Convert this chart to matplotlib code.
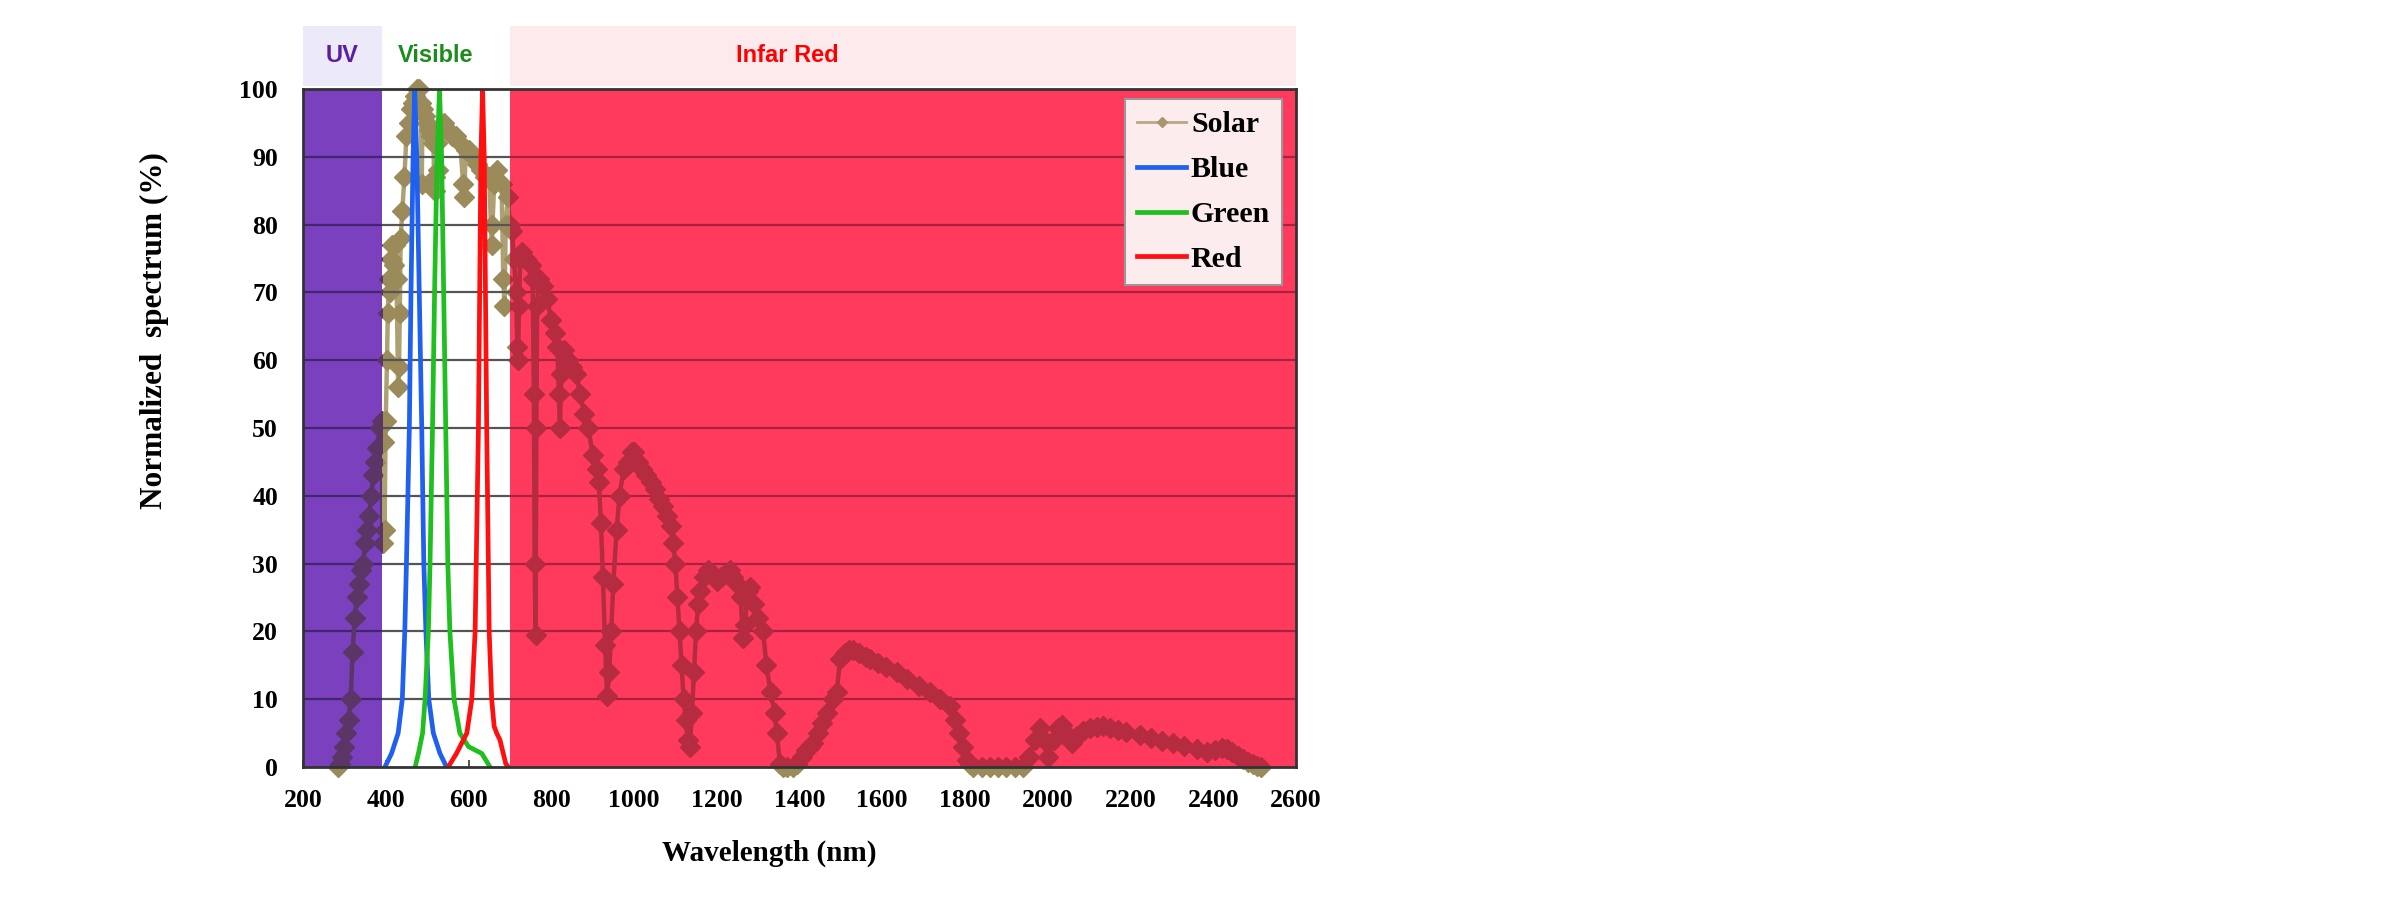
import matplotlib
matplotlib.use("Agg")
import matplotlib.pyplot as plt
from matplotlib.lines import Line2D
from matplotlib.patches import Rectangle

# normalized solar spectrum
solar_nm = [285, 290, 295, 300, 305, 310, 315, 320, 325, 330, 335, 340, 345, 350, 355, 360,
            365, 370, 375, 380, 385, 390, 393, 395, 397, 400, 403, 405, 408, 410, 413, 416,
            420, 423, 426, 430, 432, 434, 436, 440, 445, 450, 455, 460, 465, 470, 475, 480,
            485, 487, 489, 495, 500, 505, 510, 515, 518, 520, 523, 527, 530, 540, 550, 560,
            570, 580, 587, 590, 593, 600, 610, 620, 630, 640, 650, 656, 658, 662, 670, 680,
            684, 687, 690, 695, 700, 705, 710, 715, 718, 720, 722, 725, 730, 740, 750, 755,
            758, 760, 762, 764, 766, 770, 780, 790, 800, 810, 815, 818, 821, 824, 830, 840,
            850, 860, 870, 880, 890, 900, 910, 915, 920, 925, 930, 935, 940, 945, 950, 958,
            965, 975, 985, 995, 1000, 1010, 1020, 1030, 1040, 1050, 1060, 1070, 1080, 1090, 1095, 1100,
            1105, 1110, 1115, 1120, 1125, 1130, 1135, 1140, 1145, 1150, 1155, 1160, 1170, 1180, 1190, 1200,
            1210, 1220, 1232, 1240, 1250, 1258, 1263, 1268, 1275, 1280, 1290, 1300, 1312, 1320, 1330, 1340,
            1345, 1353, 1360, 1370, 1385, 1395, 1405, 1415, 1425, 1433, 1445, 1455, 1466, 1480, 1490, 1498,
            1510, 1520, 1530, 1545, 1560, 1570, 1590, 1610, 1635, 1660, 1690, 1715, 1740, 1763, 1775, 1785,
            1795, 1805, 1812, 1820, 1840, 1860, 1880, 1900, 1920, 1940, 1955, 1970, 1981, 1990, 2001, 2015,
            2025, 2035, 2045, 2058, 2070, 2085, 2102, 2120, 2134, 2150, 2170, 2190, 2223, 2250, 2275, 2303,
            2330, 2360, 2385, 2405, 2420, 2433, 2445, 2460, 2472, 2485, 2495, 2505, 2515]
solar_val = [0, 0.5, 1.5, 3, 5, 7, 10, 17, 22, 25, 27, 29, 30, 33, 35, 37,
             40, 43, 45, 47, 50, 51, 33, 48, 35, 51, 60, 67, 72, 70, 75, 77,
             74, 77, 72, 56, 59, 67, 78, 82, 87, 93, 95, 97, 98, 99, 100, 100,
             98, 86, 97, 96, 95, 94, 93, 92, 85, 87, 92, 88, 94, 95, 94, 93,
             93, 92, 86, 84, 91, 91, 90, 89, 88, 87, 87, 77, 80, 86, 88, 86,
             72, 68, 80, 84, 80, 79, 75, 70, 62, 60, 68, 75, 76, 75, 74, 72,
             55, 30, 19.5, 50, 68, 72, 71, 69, 66, 64, 62, 55, 50, 58, 61.5, 60,
             59, 58, 55, 52, 50, 46, 44, 42, 36, 28, 18, 10.5, 14, 20, 27, 35,
             40, 44, 45, 46.5, 46.5, 45, 44, 43, 42, 41, 39.5, 38.5, 37, 35.5, 33, 30,
             25, 20, 15, 10, 7, 4, 3, 8, 14, 20, 24, 26, 28, 29, 28.5, 27.5,
             28, 28.5, 29, 28, 27, 25, 19, 21, 26, 26.5, 24, 22, 20, 15, 11, 8,
             5, 0.5, 0, 0, 0, 0.5, 1.5, 2.5, 3, 3.5, 5, 6.5, 8, 10, 11, 16,
             16.8, 17.2, 17.2, 16.8, 16.2, 16, 15.3, 14.8, 14, 13, 12, 11, 10, 9, 7, 5,
             3, 1, 0.5, 0, 0, 0, 0, 0, 0, 0, 1.5, 4, 5.7, 4, 1.5, 4,
             5.8, 6.2, 5, 3.5, 4.5, 5.3, 5.7, 5.9, 6, 5.7, 5.4, 5.1, 4.7, 4.3, 3.9, 3.5,
             3.1, 2.6, 2.2, 2.5, 2.8, 2.7, 2.2, 1.6, 1.2, 0.8, 0.4, 0.2, 0]

blue_nm = [398, 414, 430, 440, 446, 450, 457, 461, 466, 470, 475, 481, 487, 492, 497, 504, 515, 531, 547]
blue_val = [0, 2, 5, 10, 20, 30, 50, 70, 90, 100, 90, 70, 50, 30, 20, 10, 5, 2, 0]

green_nm = [471, 479, 489, 495, 503, 507, 513, 518, 524, 530, 535, 540, 545, 550, 555, 565, 579, 600, 632, 652]
green_val = [0, 2, 5, 10, 20, 30, 50, 70, 90, 100, 90, 70, 50, 30, 20, 10, 5, 3, 2, 0]

red_nm = [551, 571, 596, 608, 616, 624, 630, 634, 638, 644, 650, 656, 662, 668, 676, 684, 690, 696]
red_val = [0, 2, 5, 10, 20, 50, 90, 100, 90, 50, 20, 10, 6, 5, 4, 2, 0.5, 0]

region_names = ["UV", "Visible", "Infar Red"]
region_edges = [200, 390, 700, 2600]
region_label_x = [295, 520, 1370]
region_fill = ["#7a40be", None, "#ff3a5d"]
region_head = ["#eceaf8", "#ffffff", "#fdeaec"]
region_text = ["#5a1fa0", "#1c8c1c", "#ff0000"]
region_grid = ["#43256e", "#555555", "#a8223f"]
region_solar = ["#5a3566", "#9c8b5a", "#b52b3f"]

x_ticks = list(range(200, 2601, 200))
y_ticks = list(range(0, 101, 10))

fig = plt.figure(figsize=(24, 9), dpi=100)
ax = fig.add_axes([0.12625, 0.1478, 0.41375, 0.7533])
ax.set_xlim(200, 2600)
ax.set_ylim(0, 100)
xaxis_tr = ax.get_xaxis_transform()

mk = dict(lw=3.2, marker="D", ms=10.5)

# olive solar curve underneath everything (visible part + bits poking out of the frame)
ax.plot(solar_nm, solar_val, color="#ada072", mfc="#9c8b5a", mec="#9c8b5a",
        zorder=1.5, clip_on=False, **mk)

for i in range(3):
    x0, x1 = region_edges[i], region_edges[i + 1]
    if region_fill[i]:
        ax.axvspan(x0, x1, color=region_fill[i], lw=0, zorder=2)
        ln, = ax.plot(solar_nm, solar_val, color=region_solar[i],
                      mfc=region_solar[i], mec=region_solar[i], zorder=3, **mk)
        clip = Rectangle((x0, 0), x1 - x0, 1, transform=xaxis_tr)
        ln.set_clip_path(clip)
    ax.hlines(y_ticks[1:-1], x0, x1, color=region_grid[i], lw=1.6, zorder=2.5)
    # header band
    ax.axvspan(x0, x1, ymin=1.004, ymax=1.093, color=region_head[i], lw=0, clip_on=False)
    ax.text(region_label_x[i], 1.05, region_names[i], transform=xaxis_tr, ha="center",
            va="center", color=region_text[i], fontsize=17, fontweight="bold",
            family=["Liberation Sans Narrow", "Liberation Sans"])

lb, = ax.plot(blue_nm, blue_val, color="#1f60f0", lw=3.4, zorder=4, label="Blue")
lg, = ax.plot(green_nm, green_val, color="#1fbf1f", lw=3.4, zorder=4, label="Green")
lr, = ax.plot(red_nm, red_val, color="#ff1010", lw=3.4, zorder=4, label="Red")

solar_handle = Line2D([], [], color="#b8a882", lw=2, marker="D", ms=5,
                      mfc="#a8966a", mec="#a8966a", label="Solar")

serif = ["Liberation Serif", "DejaVu Serif"]
leg = ax.legend(handles=[solar_handle, lb, lg, lr], loc="upper right",
                bbox_to_anchor=(0.986, 0.985), borderaxespad=0,
                prop={"family": serif, "weight": "bold", "size": 21.5},
                frameon=True, fancybox=False, facecolor="#fcecee", edgecolor="#999999",
                framealpha=1, handlelength=1.65, handletextpad=0.15, labelspacing=0.6,
                borderpad=0.4)
leg.set_zorder(10)
leg.get_frame().set_linewidth(1.5)

ax.set_xticks(x_ticks)
ax.set_yticks(y_ticks)
ax.tick_params(axis="x", direction="in", length=5, width=1.2, color="#333333", pad=16)
ax.tick_params(axis="y", length=0, pad=18)
for lab in ax.get_xticklabels() + ax.get_yticklabels():
    lab.set_family(serif)
    lab.set_fontweight("bold")
    lab.set_fontsize(18.5)

ax.set_xlabel("Wavelength (nm)", family=serif, fontweight="bold", fontsize=21)
ax.set_ylabel("Normalized  spectrum (%)", family=serif, fontweight="bold", fontsize=22.5)
ax.xaxis.set_label_coords(0.47, -0.127)
ax.yaxis.set_label_coords(-0.15, 0.643)
ax.xaxis.label.set_va("center")
ax.yaxis.label.set_va("center")

for sp in ax.spines.values():
    sp.set_color("#333333")
    sp.set_linewidth(2)
    sp.set_zorder(5)

fig.savefig("out.png", dpi=100, facecolor="white")
